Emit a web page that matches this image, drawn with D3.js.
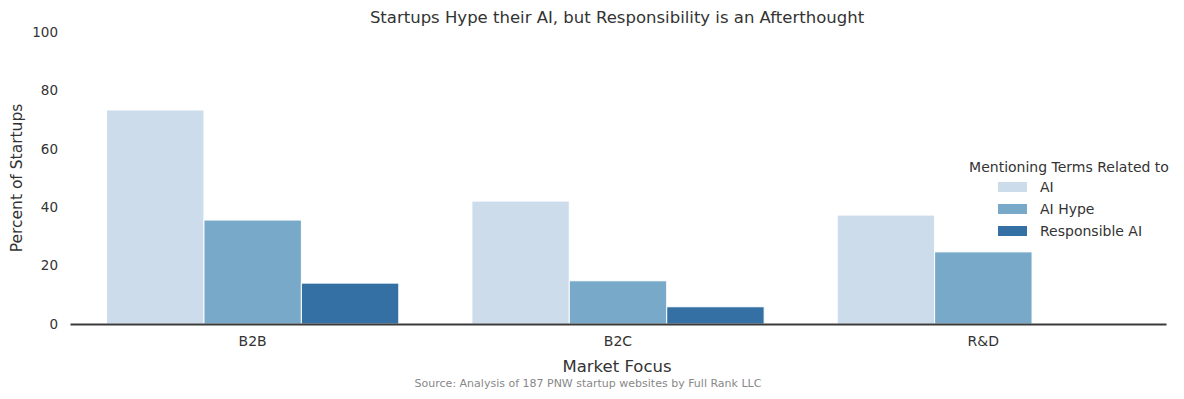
<!DOCTYPE html>
<html>
<head>
<meta charset="utf-8">
<script src="https://cdn.jsdelivr.net/npm/d3@7"></script>
<style>
  body { margin: 0; background: #fff; }
  svg text { font-family: "DejaVu Sans", "Open Sans", sans-serif; fill: #333; }
</style>
</head>
<body>
<svg id="chart"></svg>
<script>
// Размеры
const width = 1184;
const height = 399;

// Данные
const markets = ['B2B', 'B2C', 'R&D'];
const series = ['AI', 'AI Hype', 'Responsible AI'];
const aiValues = [73.3, 42.1, 37.3];
const hypeValues = [35.6, 14.8, 24.7];
const responsibleValues = [14.0, 5.9, 0];
const yTicks = [0, 20, 40, 60, 80, 100];

const colors = ['#cddcea', '#78a9c8', '#3470a3'];

const svg = d3.select('#chart').attr('width', width).attr('height', height);

const x = d3.scaleBand().domain(markets).range([70, 1166]);
const xInner = d3.scaleBand().domain(series).range([0, x.bandwidth() * 0.8]);
const y = d3.scaleLinear().domain([0, 100]).range([324, 32]);
const color = d3.scaleOrdinal().domain(series).range(colors);

const rows = [];
markets.forEach((m, i) => {
    rows.push({ market: m, series: 'AI', value: aiValues[i] });
    rows.push({ market: m, series: 'AI Hype', value: hypeValues[i] });
    rows.push({ market: m, series: 'Responsible AI', value: responsibleValues[i] });
});

// Столбцы
svg.append('g').selectAll('rect').data(rows).enter().append('rect')
    .attr('x', d => x(d.market) + x.bandwidth() * 0.1 + xInner(d.series))
    .attr('y', d => y(d.value))
    .attr('width', xInner.bandwidth())
    .attr('height', d => y(0) - y(d.value))
    .attr('fill', d => color(d.series))
    .attr('stroke', '#fff')
    .attr('stroke-width', 1);

// Ось X
const xAxis = svg.append('g').attr('transform', `translate(0, ${y(0)})`)
    .call(d3.axisBottom(x).tickSize(0).tickPadding(12));
xAxis.select('.domain').attr('stroke', '#3a3a3a').attr('stroke-width', 2);
xAxis.selectAll('text').attr('font-size', 14).attr('fill', '#333');

// Ось Y
const yAxis = svg.append('g').attr('transform', 'translate(58, 0)')
    .call(d3.axisLeft(y).tickValues(yTicks).tickSize(0).tickPadding(0));
yAxis.select('.domain').remove();
yAxis.selectAll('text').attr('font-size', 13.5).attr('fill', '#333');

// Подписи
svg.append('text').attr('x', 617).attr('y', 23).attr('text-anchor', 'middle')
    .attr('font-size', 16.5).text('Startups Hype their AI, but Responsibility is an Afterthought');

svg.append('text').attr('x', 617).attr('y', 372).attr('text-anchor', 'middle')
    .attr('font-size', 16.5).text('Market Focus');

svg.append('text').attr('transform', 'translate(22, 178) rotate(-90)')
    .attr('text-anchor', 'middle').attr('font-size', 15.5).text('Percent of Startups');

svg.append('text').attr('x', 588).attr('y', 387).attr('text-anchor', 'middle')
    .attr('font-size', 11).style('fill', '#888')
    .text('Source: Analysis of 187 PNW startup websites by Full Rank LLC');

// Легенда
const legend = svg.append('g');
legend.append('text').attr('x', 1069).attr('y', 172).attr('text-anchor', 'middle')
    .attr('font-size', 14).text('Mentioning Terms Related to');

const item = legend.selectAll('.item').data(series).enter().append('g')
    .attr('transform', (d, i) => `translate(0, ${187 + i * 22})`);
item.append('rect').attr('x', 998).attr('y', -5).attr('width', 29).attr('height', 10)
    .attr('fill', d => color(d));
item.append('text').attr('x', 1040).attr('y', 5).attr('font-size', 14).text(d => d);
</script>
</body>
</html>
